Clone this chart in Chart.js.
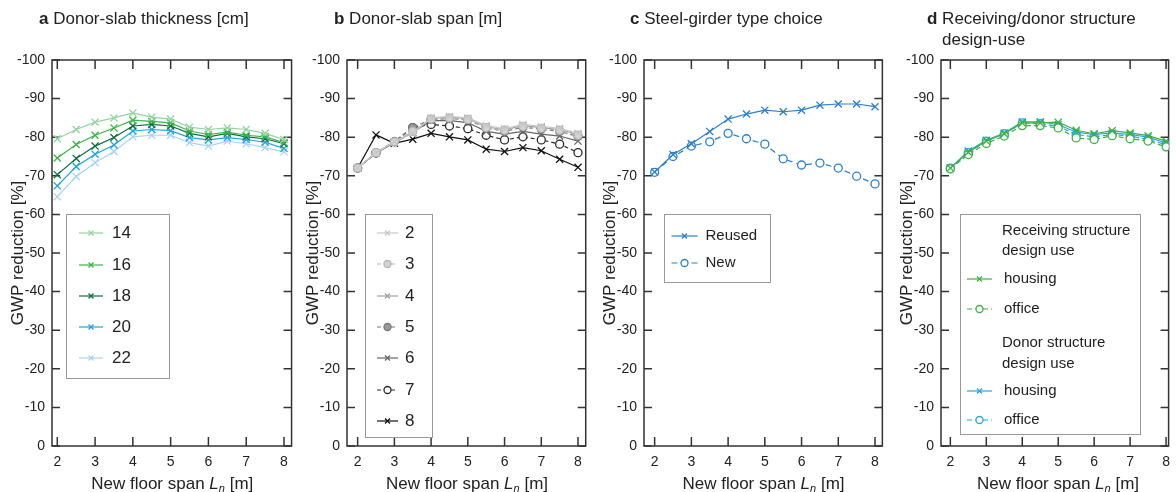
<!DOCTYPE html>
<html>
<head>
<meta charset="utf-8">
<script src="https://cdn.jsdelivr.net/npm/chart.js@4.4.1/dist/chart.umd.min.js"></script>
<style>
body{margin:0;width:1176px;height:492px;position:relative;overflow:hidden;background:#fff;
  font-family:Arial,"Liberation Sans",sans-serif;color:#222}
canvas{position:absolute;top:0}
.ttl{position:absolute;top:8px;font-size:17px;line-height:21px;white-space:nowrap;z-index:2}
.ttl b{font-weight:bold}
.xt{position:absolute;top:474px;font-size:17px;line-height:20px;white-space:nowrap;text-align:center;z-index:2}
.xt sub{font-size:11px;font-style:italic;vertical-align:-3px;line-height:0}
</style>
</head>
<body>
<div class="ttl" style="left:39px"><b>a</b> Donor-slab thickness [cm]</div>
<div class="ttl" style="left:334px"><b>b</b> Donor-slab span [m]</div>
<div class="ttl" style="left:630px"><b>c</b> Steel-girder type choice</div>
<div class="ttl" style="left:927px;padding-left:15px;text-indent:-15px;white-space:normal;width:240px"><b>d</b> Receiving/donor structure design-use</div>
<script>
// new floor span L_n [m]
var span = [2, 2.5, 3, 3.5, 4, 4.5, 5, 5.5, 6, 6.5, 7, 7.5, 8];
var xTicks = [2, 3, 4, 5, 6, 7, 8];
var yTicks = [-100, -90, -80, -70, -60, -50, -40, -30, -20, -10, 0];

// a  donor-slab thickness [cm]
var thickLabels = ['14', '16', '18', '20', '22'];
var thick14 = [-79.6, -82.0, -83.9, -85.0, -86.3, -85.2, -84.7, -82.6, -82.0, -82.4, -82.0, -81.0, -79.4];
var thick16 = [-74.6, -78.1, -80.5, -82.4, -84.4, -84.1, -83.7, -81.6, -80.7, -81.3, -80.5, -80.1, -78.6];
var thick18 = [-70.3, -74.5, -77.7, -79.9, -82.9, -83.3, -82.9, -81.0, -80.1, -81.0, -80.1, -79.6, -78.3];
var thick20 = [-67.4, -72.4, -75.6, -78.0, -81.6, -82.0, -81.7, -79.9, -79.3, -79.9, -79.4, -78.7, -77.1];
var thick22 = [-64.6, -69.8, -73.4, -76.3, -80.1, -80.5, -80.5, -78.6, -77.7, -79.0, -78.3, -77.3, -76.2];

// b  donor-slab span [m]
var spanLabels = ['2', '3', '4', '5', '6', '7', '8'];
var donor2 = [-72.0, -76.0, -78.8, -81.0, -85.0, -85.4, -85.0, -83.0, -82.2, -83.3, -82.8, -82.3, -81.0];
var donor3 = [-72.0, -76.0, -78.8, -81.5, -84.7, -85.0, -84.6, -82.5, -81.8, -82.8, -82.3, -81.8, -80.5];
var donor4 = [-72.0, -76.0, -78.8, -81.2, -84.9, -85.2, -84.8, -82.7, -81.9, -83.0, -82.5, -82.0, -80.7];
var donor5 = [-72.0, -76.0, -78.9, -82.5, -84.6, -84.8, -84.5, -82.4, -81.5, -82.6, -82.1, -81.5, -80.2];
var donor6 = [-72.0, -75.9, -78.6, -81.2, -84.3, -84.3, -83.8, -81.5, -80.8, -81.5, -80.8, -80.3, -79.0];
var donor7 = [-72.0, -75.9, -78.8, -82.5, -83.3, -82.9, -82.2, -80.5, -79.3, -80.1, -79.3, -78.2, -76.0];
var donor8 = [-72.0, -80.6, -78.4, -79.5, -81.0, -80.1, -79.3, -76.9, -76.3, -77.3, -76.5, -74.3, -72.2];

// c  steel-girder type
var girderLabels = ['Reused', 'New'];
var girderReused = [-71.0, -75.5, -78.3, -81.5, -84.7, -86.0, -87.0, -86.6, -87.0, -88.3, -88.6, -88.6, -87.9];
var girderNew = [-70.9, -75.0, -77.7, -78.8, -81.0, -79.6, -78.2, -74.4, -72.8, -73.3, -72.0, -69.9, -67.9];

// d  design use
var useLabels = ['housing', 'office'];
var recvHousing = [-72.0, -76.1, -79.0, -80.9, -83.7, -83.7, -83.9, -81.8, -80.9, -81.7, -81.1, -80.4, -79.0];
var recvOffice = [-71.8, -75.5, -78.4, -80.3, -83.0, -83.0, -82.4, -79.8, -79.4, -80.4, -79.6, -79.0, -77.5];
var donorHousing = [-72.0, -76.4, -79.2, -81.1, -84.0, -84.0, -83.3, -81.3, -80.7, -81.1, -80.7, -80.0, -78.5];
var donorOffice = [-72.0, -76.0, -79.0, -80.9, -83.7, -83.5, -82.8, -80.7, -80.1, -80.7, -80.3, -79.4, -78.1];

var FONT = 'Arial, "Liberation Sans", sans-serif';
var NARROW = '"Liberation Sans Narrow", "Arial Narrow", Arial, sans-serif';
Chart.defaults.font.family = FONT;
Chart.defaults.color = '#222';

function series(label, values, color, style, dash, fill) {
  return {
    label: label,
    data: span.map(function (x, i) { return {x: x, y: values[i]}; }),
    borderColor: color,
    backgroundColor: fill || '#fff',
    pointBackgroundColor: fill || '#fff',
    pointBorderColor: color,
    pointStyle: style,
    pointRadius: style === 'circle' ? 4 : 5,
    pointBorderWidth: 1.3,
    borderWidth: 1.2,
    borderDash: dash || [],
    tension: 0,
    fill: false
  };
}

function mark(ctx, style, x, y, r, stroke, fill) {
  ctx.setLineDash([]);
  ctx.strokeStyle = stroke;
  ctx.lineWidth = 1.3;
  ctx.beginPath();
  if (style === 'crossRot') {
    var o = r * Math.SQRT1_2;
    ctx.moveTo(x - o, y - o); ctx.lineTo(x + o, y + o);
    ctx.moveTo(x + o, y - o); ctx.lineTo(x - o, y + o);
    ctx.stroke();
  } else {
    ctx.arc(x, y, r, 0, Math.PI * 2);
    ctx.fillStyle = fill;
    ctx.fill();
    ctx.stroke();
  }
}

// box, inward ticks on all four sides
var frame = {
  id: 'frame',
  beforeDatasetsDraw: function (chart) {
    var ctx = chart.ctx, a = chart.chartArea, xs = chart.scales.x, ys = chart.scales.y;
    ctx.save();
    ctx.strokeStyle = '#333';
    ctx.lineWidth = 1.5;
    ctx.strokeRect(a.left, a.top, a.right - a.left, a.bottom - a.top);
    ctx.beginPath();
    xs.ticks.forEach(function (t) {
      var p = xs.getPixelForValue(t.value);
      ctx.moveTo(p, a.bottom); ctx.lineTo(p, a.bottom - 9);
      ctx.moveTo(p, a.top); ctx.lineTo(p, a.top + 9);
    });
    ys.ticks.forEach(function (t) {
      var p = ys.getPixelForValue(t.value);
      ctx.moveTo(a.left, p); ctx.lineTo(a.left + 8, p);
      ctx.moveTo(a.right, p); ctx.lineTo(a.right - 8, p);
    });
    ctx.stroke();
    ctx.restore();
  }
};

function boxLegend(lg, offset) {
  return {
    id: 'boxLegend',
    afterDraw: function (chart) {
      var ctx = chart.ctx, b = lg.box;
      ctx.save();
      ctx.fillStyle = '#fff';
      ctx.fillRect(b[0] - offset, b[1], b[2], b[3]);
      ctx.strokeStyle = '#999';
      ctx.lineWidth = 1;
      ctx.strokeRect(Math.round(b[0] - offset) + 0.5, b[1] + 0.5, b[2], b[3]);
      ctx.textBaseline = 'middle';
      ctx.textAlign = 'left';
      ctx.font = lg.font;
      lg.rows.forEach(function (r) {
        if (r.ds == null) {
          ctx.fillStyle = '#222';
          ctx.fillText(r.text, lg.headX - offset, r.y);
          return;
        }
        var ds = chart.data.datasets[r.ds];
        var x1 = lg.line[0] - offset, x2 = lg.line[1] - offset;
        ctx.strokeStyle = ds.borderColor;
        ctx.lineWidth = ds.borderWidth;
        ctx.setLineDash(ds.borderDash);
        ctx.beginPath();
        ctx.moveTo(x1, r.y); ctx.lineTo(x2, r.y);
        ctx.stroke();
        mark(ctx, ds.pointStyle, (x1 + x2) / 2, r.y, 3.5, ds.borderColor, ds.pointBackgroundColor);
        ctx.fillStyle = '#222';
        ctx.fillText(ds.label, lg.textX - offset, r.y);
      });
      ctx.restore();
    }
  };
}

var panels = [
  {
    left: 52, right: 292.5, xmin: 1.86, xmax: 8.2,
    sets: [
      series(thickLabels[0], thick14, '#93d3a2', 'crossRot'),
      series(thickLabels[1], thick16, '#3db54a', 'crossRot'),
      series(thickLabels[2], thick18, '#0f6e3c', 'crossRot'),
      series(thickLabels[3], thick20, '#1ea2e8', 'crossRot'),
      series(thickLabels[4], thick22, '#a9d3f5', 'crossRot')
    ],
    legend: {box: [66, 214, 103, 164], line: [79, 103], textX: 112, font: '17px ' + FONT,
      rows: [{ds: 0, y: 233}, {ds: 1, y: 265}, {ds: 2, y: 296}, {ds: 3, y: 327}, {ds: 4, y: 358}]}
  },
  {
    left: 347, right: 587, xmin: 1.71, xmax: 8.21,
    sets: [
      series(spanLabels[0], donor2, '#c8c8c8', 'crossRot'),
      series(spanLabels[1], donor3, '#b4b4b4', 'circle', [4, 3], '#d4d4d4'),
      series(spanLabels[2], donor4, '#a0a0a0', 'crossRot'),
      series(spanLabels[3], donor5, '#777777', 'circle', [4, 3], '#9a9a9a'),
      series(spanLabels[4], donor6, '#666666', 'crossRot'),
      series(spanLabels[5], donor7, '#2a2a2a', 'circle', [4, 3], '#ffffff'),
      series(spanLabels[6], donor8, '#111111', 'crossRot')
    ],
    legend: {box: [365, 214, 67, 223], line: [377, 398], textX: 405, font: '17px ' + NARROW,
      rows: [{ds: 0, y: 233}, {ds: 1, y: 264}, {ds: 2, y: 296}, {ds: 3, y: 327},
             {ds: 4, y: 358}, {ds: 5, y: 390}, {ds: 6, y: 421}]}
  },
  {
    left: 643.5, right: 883.5, xmin: 1.71, xmax: 8.2,
    sets: [
      series(girderLabels[0], girderReused, '#2a7fd0', 'crossRot'),
      series(girderLabels[1], girderNew, '#2a7fd0', 'circle', [6, 4])
    ],
    legend: {box: [663, 214, 106, 68], line: [671, 697], textX: 705, font: '15px ' + FONT,
      rows: [{ds: 0, y: 236}, {ds: 1, y: 263}]}
  },
  {
    left: 941, right: 1175, xmin: 1.74, xmax: 8.07,
    sets: [
      series(useLabels[0], recvHousing, '#3cb043', 'crossRot'),
      series(useLabels[1], recvOffice, '#3cb043', 'circle', [5, 3]),
      series(useLabels[0], donorHousing, '#29a3e3', 'crossRot'),
      series(useLabels[1], donorOffice, '#29a3e3', 'circle', [5, 3])
    ],
    legend: {box: [960, 214, 180, 220], line: [967, 992], textX: 1004, headX: 1002, font: '15px ' + FONT,
      rows: [{text: 'Receiving structure', y: 231}, {text: 'design use', y: 251},
             {ds: 0, y: 279}, {ds: 1, y: 309},
             {text: 'Donor structure', y: 343}, {text: 'design use', y: 364},
             {ds: 2, y: 391}, {ds: 3, y: 420}]}
  }
];

var AXW = 52, PADR = 3;
panels.forEach(function (p) {
  var cLeft = p.left - AXW;
  var w = Math.round(p.right - cLeft + PADR);
  var cv = document.createElement('canvas');
  cv.width = w; cv.height = 492;
  cv.style.left = cLeft + 'px';
  document.body.appendChild(cv);

  var xt = document.createElement('div');
  xt.className = 'xt';
  xt.style.left = (p.left - 40) + 'px';
  xt.style.width = (p.right - p.left + 80) + 'px';
  xt.innerHTML = 'New floor span <i>L</i><sub>n</sub> [m]';
  document.body.appendChild(xt);

  new Chart(cv, {
    type: 'line',
    data: {datasets: p.sets},
    plugins: [frame, boxLegend(p.legend, cLeft)],
    options: {
      responsive: false,
      animation: false,
      devicePixelRatio: 1,
      events: [],
      layout: {padding: {top: 60, right: w - (p.right - cLeft), bottom: 0, left: 0}, autoPadding: false},
      plugins: {legend: {display: false}, tooltip: {enabled: false}},
      scales: {
        x: {
          type: 'linear', min: p.xmin, max: p.xmax,
          afterBuildTicks: function (s) { s.ticks = xTicks.map(function (v) { return {value: v}; }); },
          afterFit: function (s) { s.height = 46; },
          grid: {display: false, drawTicks: false},
          border: {display: false},
          ticks: {font: {size: 14}, color: '#222', padding: 8, maxRotation: 0, autoSkip: false}
        },
        y: {
          type: 'linear', min: -100, max: 0, reverse: true,
          afterBuildTicks: function (s) { s.ticks = yTicks.map(function (v) { return {value: v}; }); },
          afterFit: function (s) { s.width = AXW; },
          grid: {display: false, drawTicks: false},
          border: {display: false},
          ticks: {font: {size: 14}, color: '#222', padding: 7, autoSkip: false},
          title: {display: true, text: 'GWP reduction [%]', font: {size: 17}, color: '#222',
                  padding: {top: 8, bottom: 0}}
        }
      }
    }
  });
});
</script>
</body>
</html>
